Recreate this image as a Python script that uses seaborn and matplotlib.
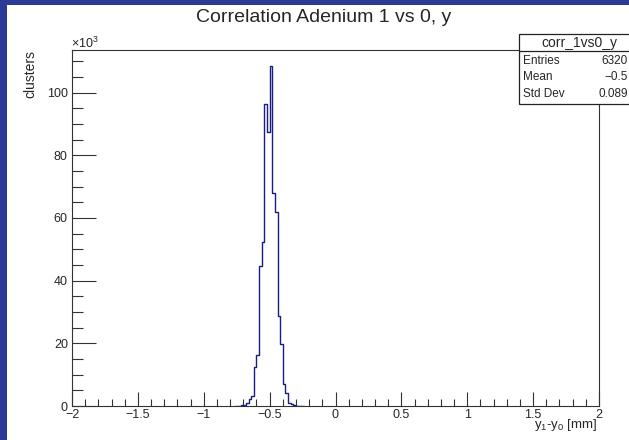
import numpy as np
import pandas as pd
import matplotlib
matplotlib.use("Agg")
import matplotlib.pyplot as plt
import seaborn as sns
from matplotlib.patches import Rectangle
from matplotlib.lines import Line2D
from matplotlib.ticker import MultipleLocator, FuncFormatter

sns.set_style("ticks")
plt.rcParams['font.family'] = ['Liberation Sans', 'DejaVu Sans']
plt.rcParams['mathtext.fontset'] = 'custom'
plt.rcParams['mathtext.rm'] = 'Liberation Sans'
plt.rcParams['mathtext.it'] = 'Liberation Sans:italic'

# y1 - y0 bin centres [mm] and counts (x10^3 clusters)
dy_centers = [-0.75, -0.73, -0.71, -0.69, -0.67, -0.65, -0.63, -0.61, -0.59,
              -0.57, -0.55, -0.53, -0.51, -0.49, -0.47, -0.45, -0.43, -0.41,
              -0.39, -0.37, -0.35, -0.33, -0.31, -0.29, -0.27, -0.25]
counts_k = [0.05, 0.1, 0.2, 0.4, 0.8, 2.2, 3.3, 12.4, 16.2,
            44.7, 52.3, 96.4, 87.4, 108.5, 68.1, 62.0, 28.8, 19.8,
            7.0, 4.0, 1.1, 0.6, 0.35, 0.15, 0.08, 0.04]

stat_labels = ["Entries", "Mean", "Std Dev"]
stat_values = ["6320", "\u22120.5", "0.089"]

df = pd.DataFrame({"dy": dy_centers, "n": counts_k})

W, H = 629, 440
fig = plt.figure(figsize=(W / 100, H / 100), dpi=100)
fig.patch.set_facecolor('#2b3a94')
fig.add_artist(Rectangle((7 / W, 0), 1, 1 - 5 / H, transform=fig.transFigure,
                         facecolor='white', edgecolor='none', zorder=-10))

ax = fig.add_axes([72 / W, 1 - 406 / H, (599 - 72) / W, (406 - 50) / H])
sns.histplot(data=df, x="dy", weights="n", binwidth=0.02, binrange=(-0.76, -0.24),
             element="step", fill=False, color='#1c1c85', linewidth=1.0, ax=ax)

ax.set_xlim(-2, 2)
ax.set_ylim(0, 113.6)
ax.set_xlabel("")
ax.set_ylabel("")
ax.xaxis.set_major_locator(MultipleLocator(0.5))
ax.xaxis.set_minor_locator(MultipleLocator(0.1))
ax.yaxis.set_major_locator(MultipleLocator(20))
ax.yaxis.set_minor_locator(MultipleLocator(5))
ax.xaxis.set_major_formatter(FuncFormatter(lambda v, p: ('%g' % v).replace('-', '\u2212')))
ax.yaxis.set_major_formatter(FuncFormatter(lambda v, p: '%g' % v))
ax.tick_params(axis='x', which='major', direction='in', length=10, width=0.8,
               labelsize=9, pad=2, top=False, color='#333333')
ax.tick_params(axis='x', which='minor', direction='in', length=5, width=0.8,
               top=False, color='#333333')
ax.tick_params(axis='y', which='major', direction='in', length=17, width=0.8,
               labelsize=9, pad=3, right=False, color='#333333')
ax.tick_params(axis='y', which='minor', direction='in', length=8, width=0.8,
               right=False, color='#333333')
for s in ax.spines.values():
    s.set_visible(True)
    s.set_color('#333333')
    s.set_linewidth(0.8)

# titles and axis labels
fig.text(324 / W, 1 - 18 / H, "Correlation Adenium 1 vs 0, y", ha='center',
         va='center', fontsize=14)
fig.text(30 / W, 1 - 50 / H, "clusters", rotation=90, ha='center', va='top',
         fontsize=10)
fig.text(597 / W, 1 - 428 / H, "y$_1$-y$_0$ [mm]", ha='right', va='baseline',
         fontsize=9.5)
fig.text(71 / W, 1 - 48 / H, "\u00d710$^3$", ha='left', va='baseline', fontsize=9)

# stats box
box_l, box_t, box_b, box_r = 519, 34, 104, 640
fig.add_artist(Rectangle((box_l / W, 1 - box_b / H), (box_r - box_l) / W,
                         (box_b - box_t) / H, transform=fig.transFigure,
                         facecolor='white', edgecolor='#222222', linewidth=0.9,
                         zorder=5, clip_on=False))
fig.add_artist(Line2D([box_l / W, box_r / W], [1 - 51 / H, 1 - 51 / H],
                      transform=fig.transFigure, color='#222222', linewidth=0.9,
                      zorder=6))
fig.text(579.5 / W, 1 - 42.5 / H, "corr_1vs0_y", ha='center', va='center',
         fontsize=10, zorder=7)
for i, (lab, val) in enumerate(zip(stat_labels, stat_values)):
    yy = 1 - (61 + i * 16.5) / H
    fig.text(523 / W, yy, lab, ha='left', va='center', fontsize=8.5, zorder=7)
    fig.text(628 / W, yy, val, ha='right', va='center', fontsize=8.5, zorder=7)

fig.savefig("out.png", dpi=100)
